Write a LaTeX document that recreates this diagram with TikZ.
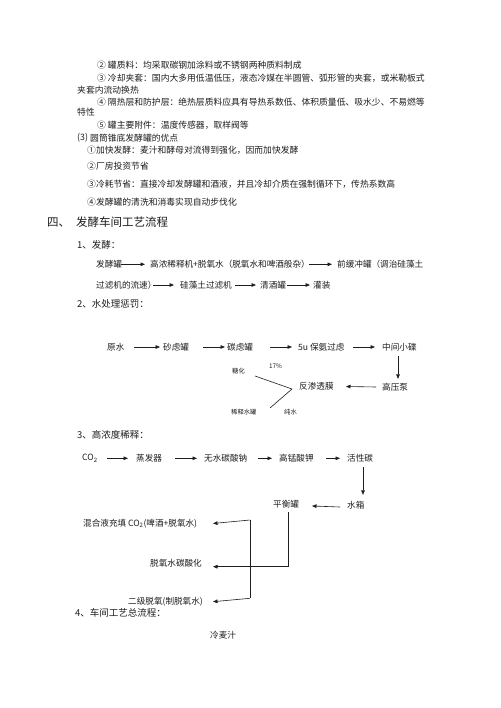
\documentclass[tikz,border=0pt]{standalone}
\usepackage{fontspec}
\setmainfont{Noto Sans CJK SC}
\usetikzlibrary{arrows.meta}
\definecolor{ink}{RGB}{30,30,30}
\tikzset{
  txt/.style={anchor=west,inner sep=0pt,text=ink,font=\fontsize{8.8}{10}\selectfont},
  head/.style={anchor=west,inner sep=0pt,text=ink,font=\fontsize{11.5}{13}\selectfont},
  sub/.style={anchor=west,inner sep=0pt,text=ink,font=\fontsize{9.5}{11}\selectfont},
  lbl/.style={anchor=west,inner sep=0pt,text=ink,font=\fontsize{8.6}{10}\selectfont},
  tiny/.style={anchor=west,inner sep=0pt,text=ink,font=\fontsize{6.3}{7}\selectfont},
  arr/.style={draw=ink,line width=0.6pt,-{Triangle[length=4.5pt,width=3.6pt]}},
  ln/.style={draw=ink,line width=0.6pt}
}
\begin{document}
\begin{tikzpicture}[x=1pt,y=-1pt]
\path[use as bounding box,fill=white] (0,0) rectangle (500,708);
% ---- top paragraphs ----
\node[txt] (t1) at (97,65.5) {② 罐质料：均采取碳钢加涂料或不锈钢两种质料制成};
\node[txt] (t2) at (97,78) {③ 冷却夹套：国内大多用低温低压，液态冷媒在半圆管、弧形管的夹套，或米勒板式};
\node[txt] (t3) at (77,90) {夹套内流动换热};
\node[txt] (t4) at (97,101.7) {④ 隔热层和防护层：绝热层质料应具有导热系数低、体积质量低、吸水少、不易燃等};
\node[txt] (t5) at (77,112) {特性};
\node[txt] (t6) at (97,125) {⑤ 罐主要附件：温度传感器，取样阀等};
\node[txt] (t7a) at (77,137.7) {(3)};
\node[txt] (t7b) at (90,137.7) {圆筒锥底发酵罐的优点};
\node[txt] (t8) at (87,150) {①加快发酵：麦汁和酵母对流得到强化，因而加快发酵};
\node[txt] (t9) at (87,166.5) {②厂房投资节省};
\node[txt] (t10) at (87,184.3) {③冷耗节省：直接冷却发酵罐和酒液，并且冷却介质在强制循环下，传热系数高};
\node[txt] (t11) at (87,201.7) {④发酵罐的清洗和消毒实现自动步伐化};
% ---- heading ----
\node[head] (h4a) at (47,222) {四、};
\node[head] (h4b) at (76,222) {发酵车间工艺流程};
% ---- 1 fermentation ----
\node[sub] (s1) at (77,245) {1、发酵：};
\node[lbl] (f1) at (96,264.3) {发酵罐};
\node[lbl] (f2) at (150,264.3) {高浓稀释机+脱氧水（脱氧水和啤酒般杂）};
\node[lbl] (f3) at (337,264.3) {前缓冲罐（调治硅藻土};
\node[lbl] (f4) at (96,285) {过滤机的流速）};
\node[lbl] (f5) at (180,285) {硅藻土过滤机};
\node[lbl] (f6) at (260,285) {清酒罐};
\node[lbl] (f7) at (313,285) {灌装};
\draw[arr] (f1.east -| 121,0) -- (f2.west -| 145,0);
\draw[arr] (f2.east -| 309,0) -- (f3.west -| 332,0);
\draw[arr] (f4.east -| 153,0) -- (f5.west -| 174,0);
\draw[arr] (f5.east -| 235,0) -- (f6.west -| 256,0);
\draw[arr] (f6.east -| 287,0) -- (f7.west -| 310,0);
% ---- 2 water treatment ----
\node[sub] (s2) at (77,304) {2、水处理惩罚：};
\node[lbl] (w1) at (107,347) {原水};
\node[lbl] (w2) at (163,347) {砂虑罐};
\node[lbl] (w3) at (227,347) {碳虑罐};
\node[lbl] (w4) at (298,347) {5u 保氨过虑};
\node[lbl] (w5) at (382,347) {中间小碟};
\node[lbl] (w6) at (382,387) {高压泵};
\node[lbl] (w7) at (299,386.5) {反渗透膜};
\node[tiny] (w8) at (269,366) {17\%};
\node[tiny] (w9) at (232,371) {糖化};
\node[tiny] (w10) at (231,412.3) {稀释水罐};
\node[tiny] (w11) at (284,412.3) {纯水};
\draw[arr] (w1.east -| 134,0) -- (w2.west -| 160,0);
\draw[arr] (w2.east -| 203,0) -- (w3.west -| 225,0);
\draw[arr] (w3.east -| 270,0) -- (w4.west -| 292,0);
\draw[arr] (w4.east -| 353,0) -- (w5.west -| 375,0);
\draw[arr] (w5.south -| 398,0) ++(0,5) -- ([yshift=4pt]w6.north -| 398,0);
\draw[arr] (w6.west -| 376,0) -- (w7.east -| 346,0);
\coordinate (v1) at (255,376);
\coordinate (v2) at (292,389);
\coordinate (v3) at (270,408);
\draw[ln] (v1) -- (v2) -- (v3);
% ---- 3 high concentration dilution ----
\node[sub] (s3) at (77,435) {3、高浓度稀释：};
\node[lbl] (c1) at (82,458.3) {CO\textsubscript{2}};
\node[lbl] (c2) at (136,458.3) {蒸发器};
\node[lbl] (c3) at (204,458.3) {无水碳酸钠};
\node[lbl] (c4) at (279,458.3) {高锰酸钾};
\node[lbl] (c5) at (347,458.3) {活性碳};
\node[lbl] (c6) at (347,505) {水箱};
\node[lbl] (c7) at (273,504) {平衡罐};
\node[lbl] (c8) at (83,523.5) {混合液充填 CO\textsubscript{2}(啤酒+脱氧水)};
\node[lbl] (c9) at (150,563.3) {脱氧水碳酸化};
\node[lbl] (c10) at (128,601.7) {二级脱氧(制脱氧水)};
\draw[arr] (c1.east -| 107,0) -- (c2.west -| 128,0);
\draw[arr] (c2.east -| 175,0) -- (c3.west -| 197,0);
\draw[arr] (c3.east -| 258,0) -- (c4.west -| 272,0);
\draw[arr] (c4.east -| 326,0) -- (c5.west -| 340,0);
\draw[arr] (c5.south -| 363,0) ++(0,5) -- ([yshift=6pt]c6.north -| 363,0);
\draw[arr] ([yshift=-2pt]c6.west -| 340,0) -- ([yshift=-2pt]c7.east -| 312,0);
\coordinate (p1) at (288,566.7);
\coordinate (p2) at (213,566.7);
\draw[arr] (c7.south -| 288,0) ++(0,4) -- (p1) -- (p2);
\coordinate (b1) at (250,520);
\coordinate (b2) at (250,598.3);
\draw[arr] (b1) -- (c8.east -| 213,0);
\draw[ln] (b1) -- (b2);
\draw[arr] (b2) -- (c10.east -| 213,0);
% ---- 4 ----
\node[sub] (s4) at (75,613.3) {4、车间工艺总流程：};
\node[lbl] (k1) at (210,635) {冷麦汁};
\end{tikzpicture}
\end{document}
